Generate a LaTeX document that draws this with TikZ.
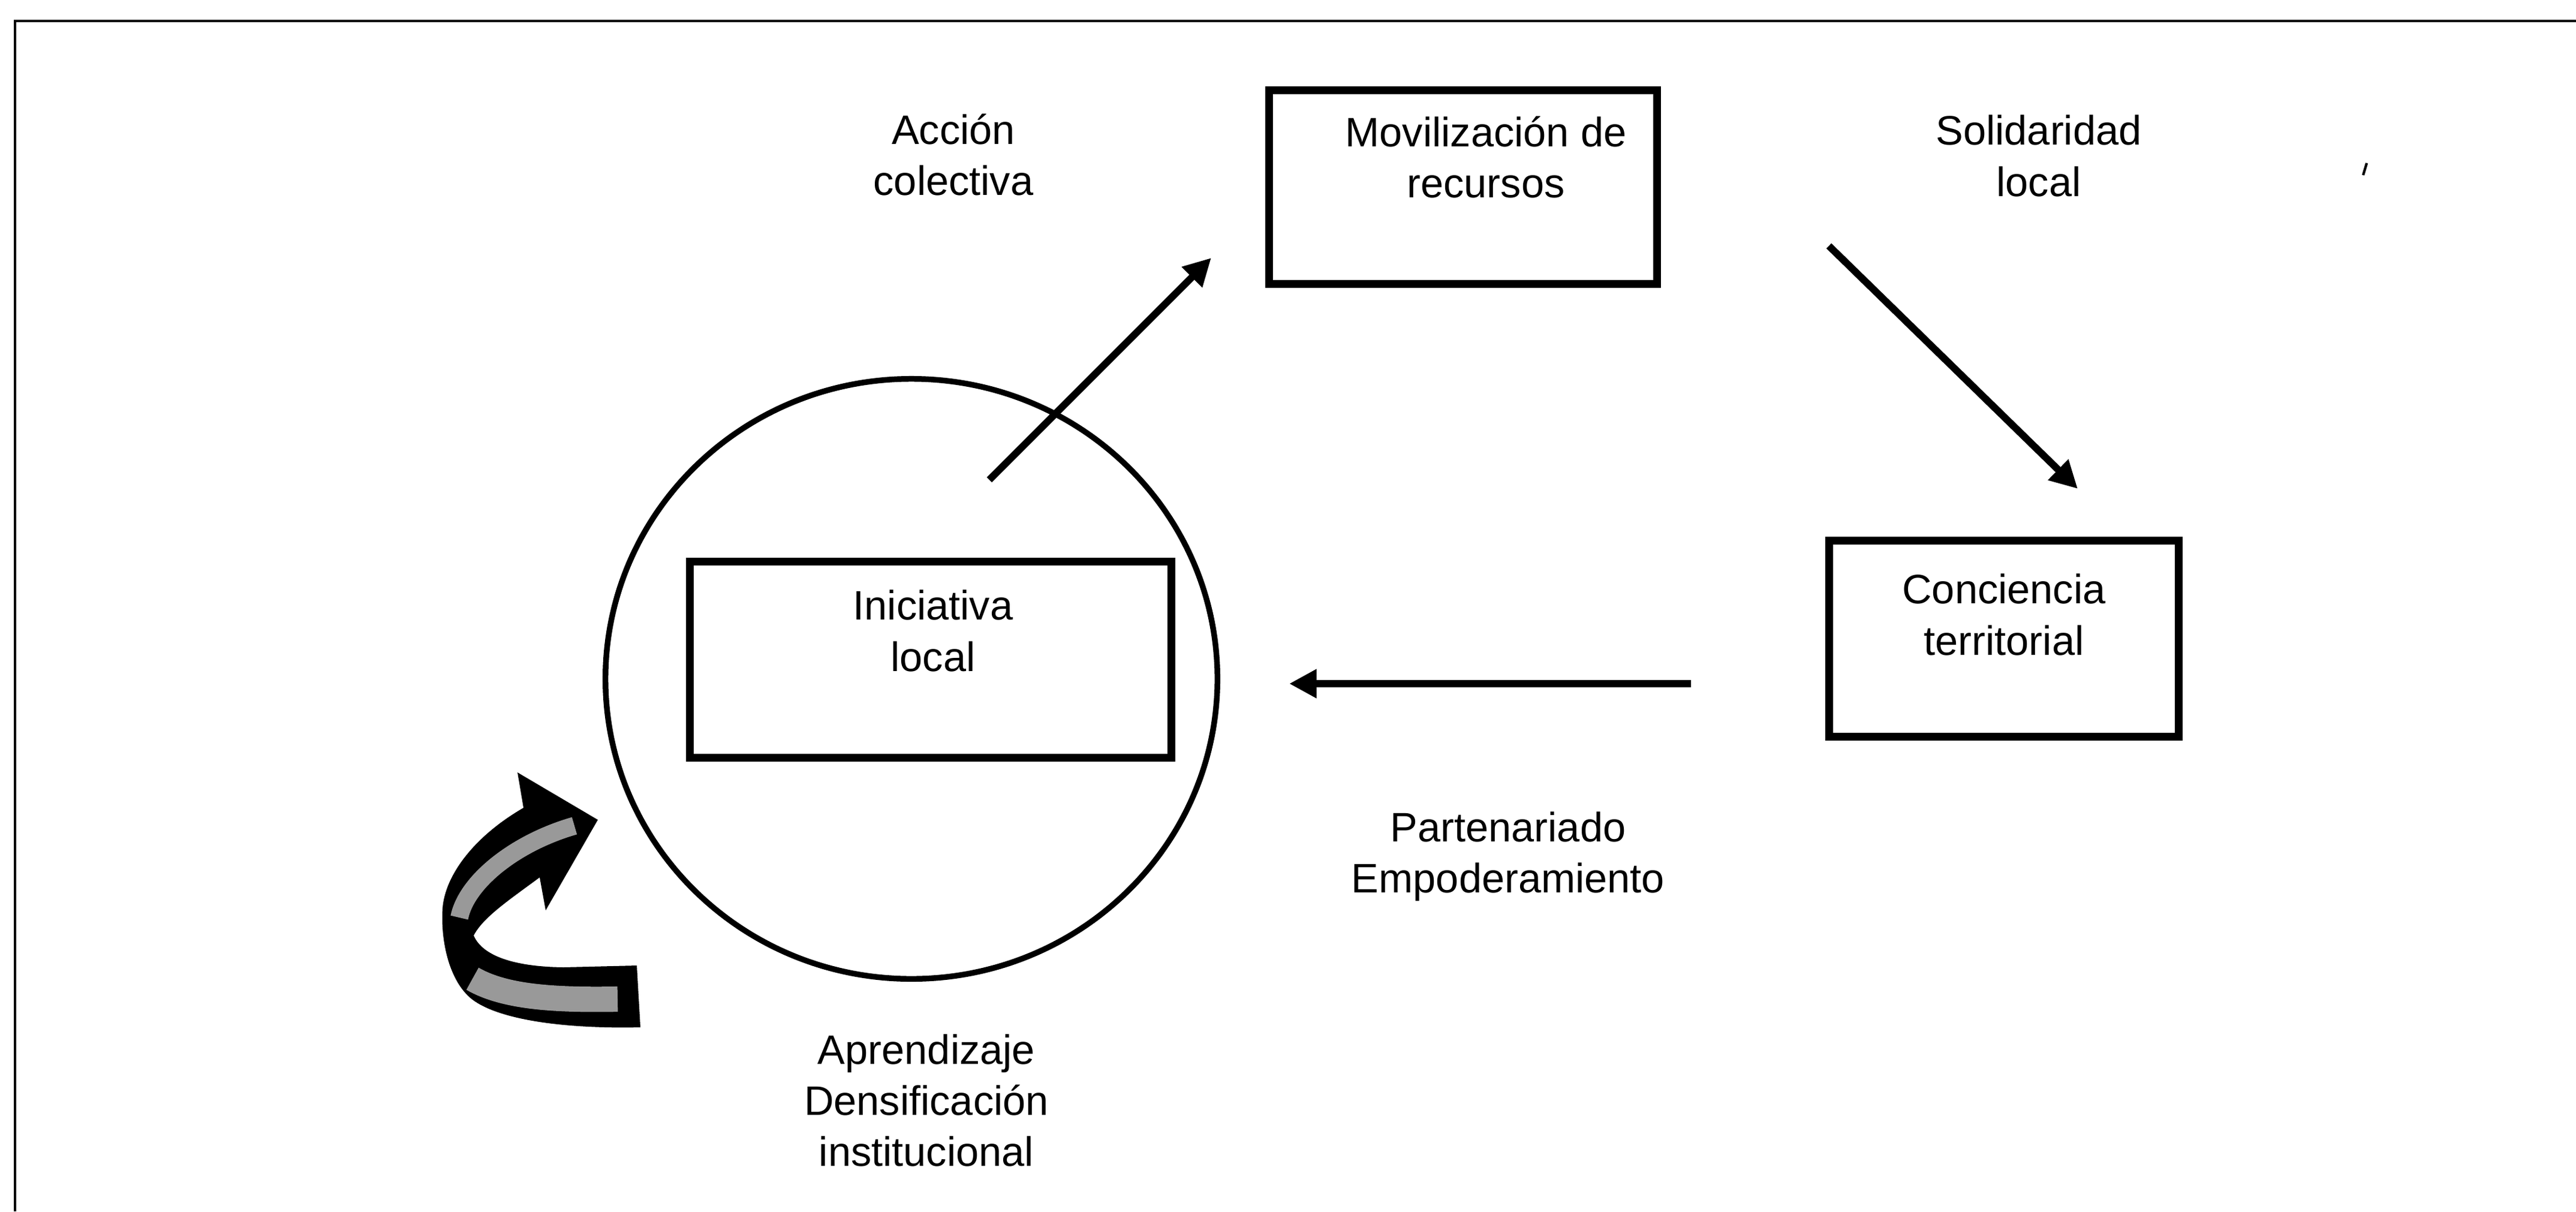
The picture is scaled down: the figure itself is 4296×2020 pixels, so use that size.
\documentclass[tikz,border=0pt]{standalone}
\usepackage{fontspec}
\setmainfont{Liberation Sans}
\usetikzlibrary{arrows.meta,shapes.geometric}
\begin{document}
\begin{tikzpicture}[x=0.01cm,y=-0.01cm,
  lbl/.style={align=center, inner sep=0pt, font=\fontsize{19.5}{24.2}\selectfont},
  boxnode/.style={draw, line width=3.7pt, inner sep=0pt},
  conn/.style={line width=3.4pt, -{Triangle[length=13pt,width=13pt]}},
  framel/.style={line width=1.4pt},
  hatch/.style={black!40, line cap=butt},
]
\useasboundingbox (0,0) rectangle (4296,2020);
% frame (top and left only)
\draw[framel] (4296,35) -- (25,35) -- (25,2020);
% scan speck
\draw[line width=1.2pt] (3941,292) -- (3947,272);

% boxes
\node[boxnode, minimum width=6.47cm, minimum height=3.22cm] (mov) at (2440,312) {};
\node[boxnode, minimum width=5.82cm, minimum height=3.27cm] (con) at (3342,1065) {};
\node[boxnode, minimum width=8.02cm, minimum height=3.27cm] (ini) at (1552,1100) {};
% circle
\node[draw, line width=2.7pt, ellipse, minimum width=10.2cm, minimum height=10.0cm, inner sep=0pt] (cir) at (1520,1132) {};

% texts
\node[lbl] (movt) at (2478,262) {Movilización de\\recursos};
\node[lbl] (cont) at (3342,1025) {Conciencia\\territorial};
\node[lbl] (init) at (1556,1052) {Iniciativa\\local};
\node[lbl] (acc) at (1590,258) {Acción\\colectiva};
\node[lbl] (sol) at (3400,260) {Solidaridad\\local};
\node[lbl] (par) at (2515,1428) {Partenariado\\Empoderamiento};
\node[lbl] (apr) at (1545,1835) {Aprendizaje\\Densificación\\institucional};

% straight arrows
\coordinate (a1s) at (1650,800);  \coordinate (a1e) at (2020,430);
\coordinate (a2s) at (3050,410);  \coordinate (a2e) at (3465,815);
\coordinate (a3s) at (2820,1140); \coordinate (a3e) at (2150,1140);
\draw[conn] (a1s) -- (a1e);
\draw[conn] (a2s) -- (a2e);
\draw[conn] (a3s) -- (a3e);

% curved block arrow
\fill[black] (1068,1713)
  .. controls (940,1716) and (820,1700) .. (780,1660)
  .. controls (745,1625) and (735,1560) .. (738,1515)
  .. controls (742,1460) and (790,1395) .. (873,1347)
  -- (863,1288) -- (997,1367) -- (910,1518) -- (900,1463)
  .. controls (850,1500) and (805,1530) .. (790,1560)
  .. controls (805,1595) and (860,1612) .. (940,1613)
  -- (1062,1610) -- cycle;
\draw[hatch, line width=8.5pt] (766,1530) .. controls (778,1470) and (860,1405) .. (958,1377);
\draw[hatch, line width=12pt] (788,1632) .. controls (840,1662) and (920,1668) .. (1030,1666);
\end{tikzpicture}
\end{document}
